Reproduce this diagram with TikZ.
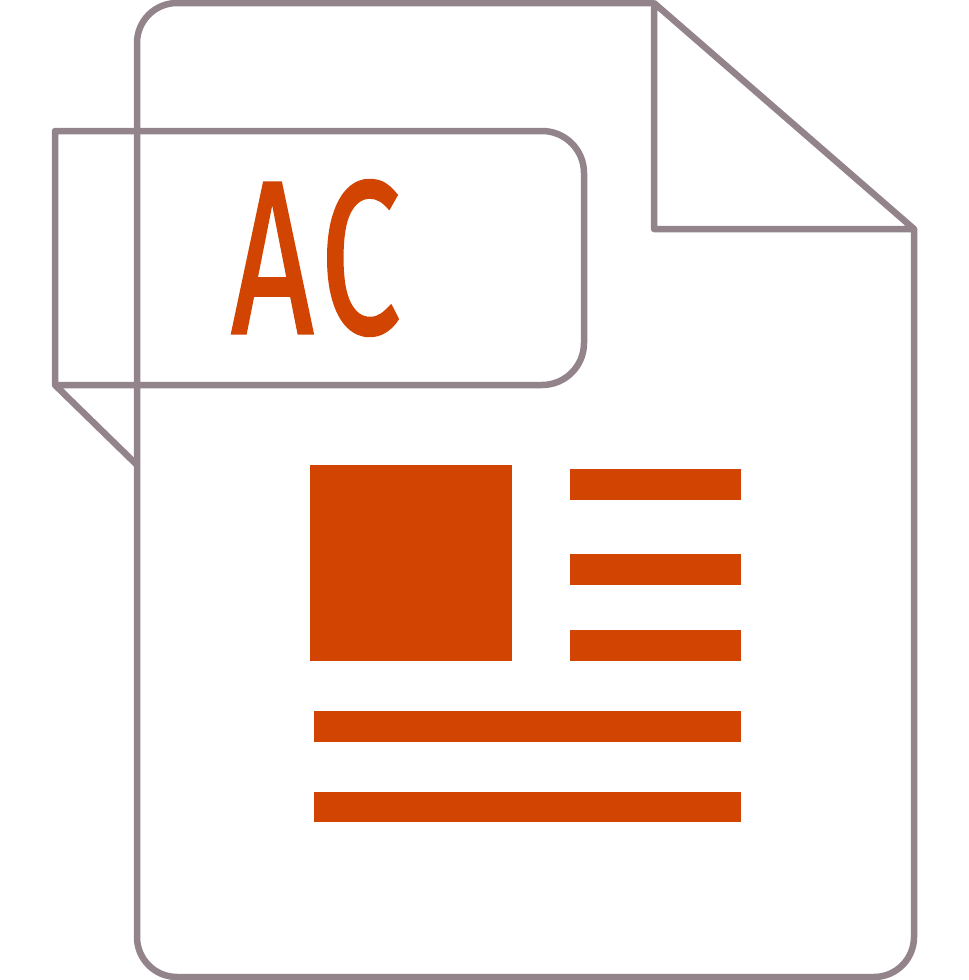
\documentclass[tikz,border=0pt]{standalone}
\usepackage{fontspec}
\newfontfamily\labelfont[FakeBold=1.4]{Fira Sans}
\definecolor{lineGrey}{HTML}{93848B}
\definecolor{accent}{HTML}{D24401}
\tikzset{
  outline/.style={draw=lineGrey,line width=6.5pt,line join=round},
  block/.style={fill=accent,draw=none}
}
\begin{document}
\begin{tikzpicture}[x=1pt,y=-1pt]
\useasboundingbox (0,0) rectangle (969,980);
\fill[white] (0,0) rectangle (969,980);
% page
\draw[outline,rounded corners=40pt] (654,3) -- (137,3) -- (137,977) -- (914,977) -- (914,229);
\draw[outline] (914,229) -- (654,3) -- (654,229) -- cycle;
% tab
\draw[outline] (137,465) -- (55,385) -- (55,131) {[rounded corners=42pt] -- (584,131) -- (584,385) -- (300,385)} -- (55,385);
% label
\node[text=accent,inner sep=0pt,xscale=0.66,font=\fontsize{218pt}{218pt}\selectfont\labelfont] (lbl) at (316,258) {A\kern10pt C};
% content
\fill[block] (310,465) rectangle (512,661);
\fill[block] (570,469) rectangle (741,500);
\fill[block] (570,554) rectangle (741,585);
\fill[block] (570,630) rectangle (741,661);
\fill[block] (314,711) rectangle (741,742);
\fill[block] (314,792) rectangle (741,822);
\end{tikzpicture}
\end{document}
